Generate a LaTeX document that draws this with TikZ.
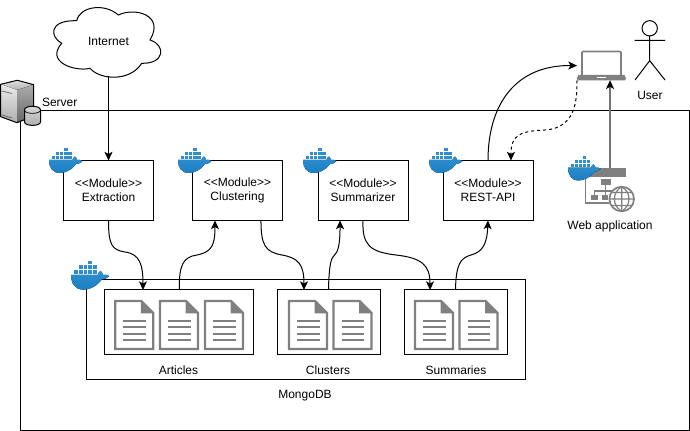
\documentclass[tikz,border=0pt]{standalone}
\usepackage{fontspec}
\setmainfont{Liberation Sans}
\usetikzlibrary{arrows.meta}
\definecolor{iconGray}{HTML}{808080}
\definecolor{whaleBlue}{HTML}{1C7FC3}
\definecolor{whaleLight}{HTML}{2E8FD0}
\tikzset{
  every node/.style={font=\fontsize{9}{10.5}\selectfont,inner sep=0pt,outer sep=0pt,align=center},
  boxnode/.style={draw=black,line width=.75pt,fill=white},
  ghost/.style={draw=none},
  conn/.style={draw=black,line width=.75pt,-{Stealth[length=6.5pt,width=6pt,inset=1.6pt]}},
  dotconn/.style={conn,dash pattern=on 2.25pt off 2.25pt},
  frame/.style={draw=black,line width=.75pt},
  thickgray/.style={draw=iconGray,line width=1.6pt},
}
\newcommand{\whaleicon}[3]{%
\begin{scope}[shift={(#1,#2)},scale=#3]
  \fill[top color=whaleLight,bottom color=whaleBlue]
    (0,13) -- (23.5,13) .. controls (24,11) and (25,10) .. (26,9.5)
    .. controls (27.5,11) and (28,12) .. (28,13) .. controls (30,12.6) and (32,13) .. (33.5,14)
    .. controls (31,16.5) and (29,17) .. (27,17) .. controls (23,23) and (16,26) .. (11,26)
    .. controls (3,26) and (0,20) .. (0,13) -- cycle;
  \foreach \cx in {3,7.1,11.2,15.3,19.4}{\fill[whaleLight] (\cx,8.9) rectangle +(3.2,3.2);}
  \foreach \cx in {7.1,11.2,15.3,19.4}{\fill[whaleLight] (\cx,4.8) rectangle +(3.2,3.2);}
  \fill[whaleLight] (15.3,.7) rectangle +(3.2,3.2);
\end{scope}}
\newcommand{\docicon}[2]{%
\begin{scope}[shift={(#1,#2)}]
  \draw[thickgray,fill=white,line join=miter] (1,1) -- (27,1) -- (39,13) -- (39,49) -- (1,49) -- cycle;
  \fill[iconGray] (26.5,0) -- (40,13.5) -- (26.5,13.5) -- cycle;
  \foreach \ly in {21,27.3,33.7,40}{\draw[iconGray,line width=1.5pt] (9,\ly) -- (31.5,\ly);}
\end{scope}}
\begin{document}
\begin{tikzpicture}[x=.75pt,y=-.75pt]
\useasboundingbox (0,0) rectangle (690,431);
\fill[white] (0,0) rectangle (690,431);

% Server frame
\node[boxnode,minimum width=502.1pt,minimum height=240pt] (srv) at (354.75,270.5) {};

% Cloud
\draw[frame,fill=white]
  (61.7,43.3) .. controls (50,37) and (48,20) .. (76.7,20.7)
  .. controls (80,6) and (105,3) .. (118.3,15)
  .. controls (135,7) and (165,15) .. (150,40)
  .. controls (166,45) and (165,64) .. (141.7,63.3)
  .. controls (130,82) and (100,80) .. (90,68.3)
  .. controls (75,72) and (45,62) .. (61.7,43.3) -- cycle;
\node[ghost,minimum width=81pt,minimum height=52pt] (net) at (108.5,41) {Internet};

% Server icon
\fill[top color=gray!25,bottom color=gray!60] (17.3,80.3) -- (0.7,84.3) -- (17,90) -- (33.7,84.7) -- cycle;
\fill[top color=white!85!gray,bottom color=gray!65] (0.7,84.3) -- (17,90) -- (17,122.7) -- (0.7,116.7) -- cycle;
\fill[top color=gray!65,bottom color=gray!80!black] (17,90) -- (33.7,84.7) -- (33.7,116) -- (17,122.7) -- cycle;
\draw[line width=.75pt,line join=round] (17.3,80.3) -- (0.7,84.3) -- (0.7,116.7) -- (17,122.7) -- (33.7,116) -- (33.7,84.7) -- cycle;
\draw[line width=.5pt,gray!70!black] (2,91) -- (12,93.5) (2,115) -- (12,118);
\draw[line width=.75pt,top color=gray!30,bottom color=gray!65]
  (24.5,110) .. controls (24.5,105) and (40.5,105) .. (40.5,110) -- (40.5,122) .. controls (40.5,126.5) and (24.5,126.5) .. (24.5,122) -- cycle;
\draw[line width=.5pt] (24.5,110) .. controls (24.5,114.5) and (40.5,114.5) .. (40.5,110);
\node[anchor=west] (srvlabel) at (42,102) {Server};

% MongoDB frame
\node[boxnode,minimum width=329.6pt,minimum height=75pt] (mongo) at (306.25,330) {};
\node (mongolabel) at (305,396) {MongoDB};

% Modules
\node[boxnode,minimum width=67.5pt,minimum height=45pt] (ext) at (108.5,190.5) {<{}<Module>{}>\\Extraction};
\node[boxnode,minimum width=67.5pt,minimum height=45pt] (clu) at (237.5,190.5) {<{}<Module>{}>\\Clustering};
\node[boxnode,minimum width=67.5pt,minimum height=45pt] (sum) at (363,190.5) {<{}<Module>{}>\\Summarizer};
\node[boxnode,minimum width=67.5pt,minimum height=45pt] (api) at (488,190.5) {<{}<Module>{}>\\REST-API};

% Stores
\node[boxnode,minimum width=112pt,minimum height=48.75pt] (art) at (179.25,322.5) {};
\node[boxnode,minimum width=77.25pt,minimum height=48.75pt] (cls) at (328.5,322.5) {};
\node[boxnode,minimum width=77.25pt,minimum height=48.75pt] (smm) at (455.5,322.5) {};
\docicon{114.3}{300}\docicon{159}{300}\docicon{204}{300}
\docicon{288}{300}\docicon{332.5}{300}
\docicon{414}{300}\docicon{458.5}{300}
\node (artlabel) at (178.5,370) {Articles};
\node (clslabel) at (328,370) {Clusters};
\node (smmlabel) at (456,370) {Summaries};

% Web application icon
\node[ghost,minimum width=30.75pt,minimum height=26.25pt] (web) at (605.5,185.5) {};
\draw[draw=iconGray,line width=1pt] (585.5,176) -- (585.5,203) -- (609,203);
\fill[iconGray] (585,168.3) rectangle (626,176.7);
\fill[iconGray] (600.7,179.3) rectangle (611,185.3);
\fill[iconGray] (590.7,194.7) rectangle (598.3,200);
\fill[iconGray] (602,194.7) rectangle (607.7,200);
\draw[draw=iconGray,line width=1pt] (605.8,185) -- (605.8,194.7) (594.5,194.7) -- (594.5,191) -- (615,191);
\draw[draw=iconGray,line width=1.3pt,fill=white] (621.7,199) circle (12.3);
\draw[draw=iconGray,line width=.9pt] (621.7,186.7) -- (621.7,211.3) (609.4,199) -- (634,199)
  (611.5,192.5) -- (632,192.5) (611.5,205.5) -- (632,205.5)
  (621.7,186.7) .. controls (612,192) and (612,206) .. (621.7,211.3)
  (621.7,186.7) .. controls (631.4,192) and (631.4,206) .. (621.7,211.3);
\node (weblabel) at (610,226) {Web application};

% Laptop
\node[ghost,minimum width=36.75pt,minimum height=22pt] (lap) at (601.5,65.6) {};
\draw[draw=iconGray,line width=1.2pt,rounded corners=.8pt] (582,75) -- (582,51.5) -- (621,51.5) -- (621,75);
\fill[iconGray] (578.5,75) -- (624.5,75) -- (626,78.5) -- (625,80.3) -- (578,80.3) -- (576.7,78.5) -- cycle;
\fill[white] (596.7,76.7) rectangle (605.7,78.3);

% User
\node[ghost,minimum size=11.5pt,draw=black,line width=.75pt,circle] (head) at (649.7,28.3) {};
\draw[frame] (head.south) -- (649.7,60.7) (634.5,40.3) -- (665,40.3) (635,80) -- (649.7,60.7) -- (665,80);
\node (userlabel) at (650,95) {User};

% Whales
\whaleicon{49}{147}{1}
\whaleicon{178}{147}{1}
\whaleicon{303}{147}{1}
\whaleicon{429}{147}{1}
\whaleicon{71}{260}{1.14}
\whaleicon{568}{155}{.98}

% Connectors
\draw[conn] (net.south) -- (ext.north);
\draw[conn] (ext.south) .. controls (108.5,245) and (112,250) .. (125,252) .. controls (140,254) and (143,265) .. ([xshift=-27.2pt]art.north);
\draw[conn] (art.north) .. controls (179,265) and (183,257) .. (197,255) .. controls (212,252) and (215,245) .. ([xshift=-16.9pt]clu.south);
\draw[conn] ([xshift=17.6pt]clu.south) .. controls (261,245) and (265,252) .. (282,255) .. controls (299,258) and (304,265) .. ([xshift=-18.4pt]cls.north);
\draw[conn] (cls.north) .. controls (329,265) and (331,258) .. (334.5,255) .. controls (338,252) and (340,245) .. ([xshift=-17.2pt]sum.south);
\draw[conn] (sum.south) .. controls (362,245) and (370,252) .. (396,255) .. controls (422,258) and (430,265) .. ([xshift=-19.1pt]smm.north);
\draw[conn] (smm.north) .. controls (456,265) and (460,258) .. (471,255) .. controls (482,252) and (487,245) .. (api.south);
\draw[conn] (api.north) .. controls (488,105) and (515,65) .. (lap.west);
\draw[dotconn] (lap.south west) .. controls (577,100) and (576,128) .. (545,130) .. controls (520,131) and (511,135) .. ([xshift=17.2pt]api.north);
\draw[line width=1.5pt,draw=iconGray!90!black,-{Stealth[length=6.5pt,width=6pt,inset=1.6pt,color=black]}] ([xshift=3.4pt]web.north) -- ([xshift=6.4pt]lap.south);
\end{tikzpicture}
\end{document}
